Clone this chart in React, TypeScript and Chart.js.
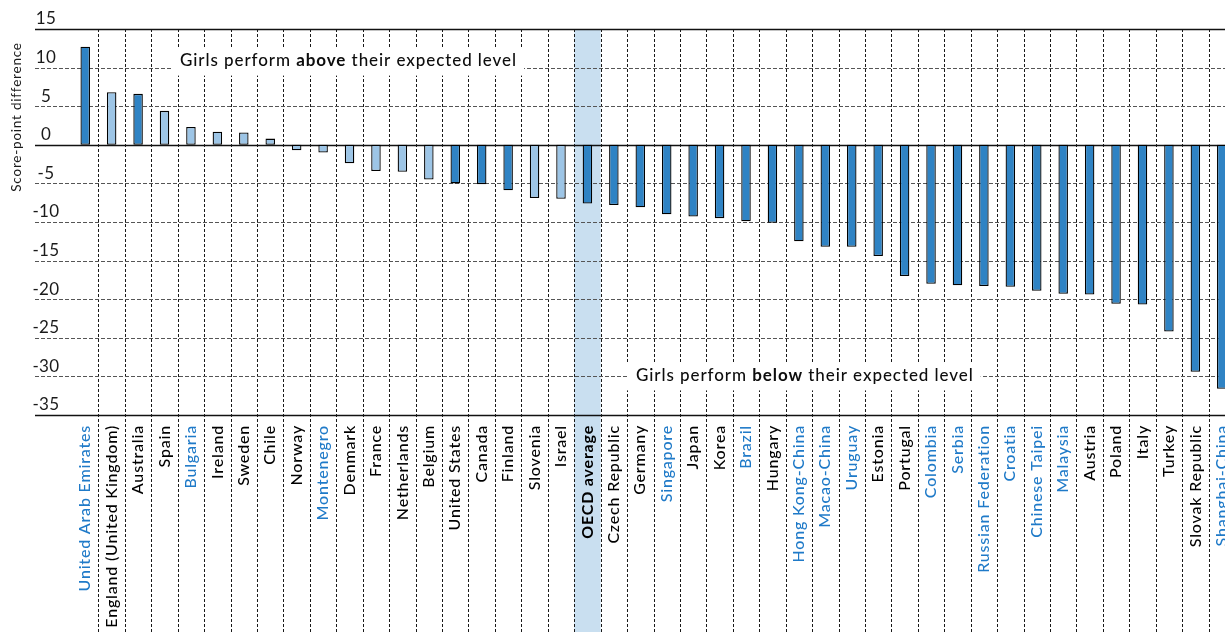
import React, { useEffect, useRef } from "react";
import { Chart, registerables } from "chart.js";

Chart.register(...registerables);

const countries = [
  "United Arab Emirates", "England (United Kingdom)", "Australia", "Spain", "Bulgaria",
  "Ireland", "Sweden", "Chile", "Norway", "Montenegro", "Denmark", "France", "Netherlands",
  "Belgium", "United States", "Canada", "Finland", "Slovenia", "Israel", "OECD average",
  "Czech Republic", "Germany", "Singapore", "Japan", "Korea", "Brazil", "Hungary",
  "Hong Kong-China", "Macao-China", "Uruguay", "Estonia", "Portugal", "Colombia", "Serbia",
  "Russian Federation", "Croatia", "Chinese Taipei", "Malaysia", "Austria", "Poland",
  "Italy", "Turkey", "Slovak Republic", "Shanghai-China",
];

const scoreDiff = [
  12.7, 6.8, 6.6, 4.4, 2.3,
  1.7, 1.6, 0.8, -0.7, -1.0, -2.4, -3.4, -3.5,
  -4.5, -5.0, -5.1, -5.9, -6.9, -7.0, -7.6,
  -7.8, -8.1, -9.0, -9.3, -9.5, -9.9, -10.1,
  -12.5, -13.2, -13.2, -14.4, -17.0, -18.0, -18.2,
  -18.3, -18.4, -18.9, -19.3, -19.4, -20.6,
  -20.7, -24.2, -29.4, -31.6,
];

// true = statistically significant (dark bar)
const significant = [
  true, false, true, false, false,
  false, false, false, false, false, false, false, false,
  false, true, true, true, false, false, true,
  true, true, true, true, true, true, true,
  true, true, true, true, true, true, true,
  true, true, true, true, true, true,
  true, true, true, true,
];

const partnerEconomies = [
  "United Arab Emirates", "Bulgaria", "Montenegro", "Singapore", "Brazil",
  "Hong Kong-China", "Macao-China", "Uruguay", "Colombia", "Serbia",
  "Russian Federation", "Croatia", "Chinese Taipei", "Malaysia", "Shanghai-China",
];

const averageLabel = "OECD average";
const yMin = -35;
const yMax = 15;
const yStep = 5;
const solidLines = [15, 0, -35];
const yTitle = "Score-point difference";
const noteAbove = ["Girls perform ", "above", " their expected level"];
const noteBelow = ["Girls perform ", "below", " their expected level"];

const DARK = "#2f83c4";
const LIGHT = "#9dc5e6";
const BAND = "#c9dff0";
const BLUE_TEXT = "#1f7ac8";
const FONT = "Lato, 'Open Sans', sans-serif";

const X_FONT_SIZE = 16;
const Y_FONT_SIZE = 17;
const NOTE_SIZE = 17;
const TITLE_SIZE = 13.5;

// letter spacing so that text spans the same length as in the original typeface
function fitSpacing(parts: string[], fonts: string[], target: number) {
  const c = document.createElement("canvas").getContext("2d") as any;
  let w = 0;
  let n = 0;
  parts.forEach((p, i) => {
    c.font = fonts[i];
    w += c.measureText(p).width;
    n += p.length;
  });
  return Math.max(0, (target - w) / n);
}

const xSpacing = fitSpacing(["England (United Kingdom)"], [`${X_FONT_SIZE}px ${FONT}`], 202);
const ySpacing = fitSpacing(["-35"], [`${Y_FONT_SIZE}px ${FONT}`], 27);
const noteFonts = [`500 ${NOTE_SIZE}px ${FONT}`, `bold ${NOTE_SIZE}px ${FONT}`, `500 ${NOTE_SIZE}px ${FONT}`];
const noteSpacing = fitSpacing(noteAbove, noteFonts, 337);
const titleSpacing = fitSpacing([yTitle], [`${TITLE_SIZE}px ${FONT}`], 149);

function drawNote(ctx: any, parts: string[], x: number, midY: number) {
  ctx.letterSpacing = `${noteSpacing}px`;
  let total = 0;
  const widths = parts.map((p, i) => {
    ctx.font = noteFonts[i];
    const w = ctx.measureText(p).width;
    total += w;
    return w;
  });
  ctx.fillStyle = "#ffffff";
  ctx.fillRect(x - 9, midY - 12, total + 16, 27);
  ctx.fillStyle = "#0d0d0d";
  ctx.textBaseline = "middle";
  ctx.textAlign = "left";
  let cx = x;
  parts.forEach((p, i) => {
    ctx.font = noteFonts[i];
    ctx.fillText(p, cx, midY);
    cx += widths[i];
  });
}

const backdropPlugin = {
  id: "backdrop",
  beforeDraw(chart: any) {
    const { ctx, chartArea, scales } = chart;
    const x = scales.x;
    const y = scales.y;
    const step = x.getPixelForValue(1) - x.getPixelForValue(0);
    ctx.save();
    ctx.fillStyle = "#ffffff";
    ctx.fillRect(0, 0, chart.width, chart.height);
    // highlighted average column
    const hi = countries.indexOf(averageLabel);
    const hx = x.getPixelForValue(hi);
    ctx.fillStyle = BAND;
    ctx.fillRect(hx - step / 2, chartArea.top, step, chart.height - chartArea.top);
    // vertical dashed separators
    ctx.lineWidth = 1;
    ctx.strokeStyle = "#1a1a1a";
    ctx.setLineDash([3, 2]);
    for (let i = 1; i <= countries.length; i++) {
      const bx = Math.round(x.getPixelForValue(i - 1) + step / 2) + 0.5;
      ctx.beginPath();
      ctx.moveTo(bx, chartArea.top);
      ctx.lineTo(bx, chart.height);
      ctx.stroke();
    }
    // horizontal grid lines
    const xStart = 35;
    for (let v = yMax; v >= yMin; v -= yStep) {
      const py = Math.round(y.getPixelForValue(v)) + 0.5;
      const solid = solidLines.includes(v);
      ctx.setLineDash(solid ? [] : [4, 2]);
      ctx.strokeStyle = solid ? "#111111" : "#555555";
      ctx.lineWidth = solid ? 1.3 : 1;
      ctx.beginPath();
      ctx.moveTo(xStart, py);
      ctx.lineTo(chart.width, py);
      ctx.stroke();
    }
    ctx.restore();
    // y tick labels are drawn next (z = 0)
    ctx.letterSpacing = `${ySpacing}px`;
  },
  afterDatasetsDraw(chart: any) {
    const { ctx, scales } = chart;
    const y = scales.y;
    ctx.save();
    drawNote(ctx, noteAbove, 180, y.getPixelForValue(10) - 7);
    drawNote(ctx, noteBelow, 636, y.getPixelForValue(-30) - 1);
    ctx.restore();
    // x tick labels are drawn after datasets (z = 1)
    ctx.letterSpacing = `${xSpacing}px`;
  },
  afterDraw(chart: any) {
    const { ctx } = chart;
    ctx.save();
    ctx.letterSpacing = `${titleSpacing}px`;
    ctx.translate(17, 117);
    ctx.rotate(-Math.PI / 2);
    ctx.font = `${TITLE_SIZE}px ${FONT}`;
    ctx.fillStyle = "#1a1a1a";
    ctx.textAlign = "center";
    ctx.textBaseline = "middle";
    ctx.fillText(yTitle, 0, 0);
    ctx.restore();
    ctx.letterSpacing = "0px";
  },
};

export default function App() {
  const canvasRef = useRef<HTMLCanvasElement | null>(null);

  useEffect(() => {
    if (!canvasRef.current) return;
    const chart = new Chart(canvasRef.current, {
      type: "bar",
      data: {
        labels: countries,
        datasets: [
          {
            data: scoreDiff,
            backgroundColor: significant.map((s) => (s ? DARK : LIGHT)),
            borderColor: "#000000",
            borderWidth: 1.3,
            borderSkipped: false,
            barPercentage: 0.36,
            categoryPercentage: 1,
          },
        ],
      },
      options: {
        animation: false,
        responsive: true,
        maintainAspectRatio: false,
        layout: { padding: { top: 29, right: 20, left: 0, bottom: 0 } },
        plugins: { legend: { display: false }, tooltip: { enabled: false }, title: { display: false } },
        scales: {
          x: {
            type: "category",
            offset: true,
            grid: { display: false, drawTicks: false },
            border: { display: false },
            afterFit: (s: any) => {
              s.height = 217;
            },
            ticks: {
              z: 1,
              autoSkip: false,
              minRotation: 90,
              maxRotation: 90,
              padding: 10,
              font: (c: any) => {
                const lbl = countries[c.index];
                return { family: FONT, size: X_FONT_SIZE, weight: lbl === averageLabel ? "bold" : "500" };
              },
              color: (c: any) => (partnerEconomies.includes(countries[c.index]) ? BLUE_TEXT : "#000000"),
            },
          },
          y: {
            min: yMin,
            max: yMax,
            grid: { display: false, drawTicks: false },
            border: { display: false },
            afterFit: (s: any) => {
              s.width = 72;
            },
            ticks: {
              stepSize: yStep,
              crossAlign: "center",
              padding: 13,
              labelOffset: -10,
              color: "#1a1a1a",
              font: { family: FONT, size: Y_FONT_SIZE },
            },
          },
        },
      },
      plugins: [backdropPlugin],
    });
    return () => chart.destroy();
  }, []);

  return (
    <div style={{ position: "fixed", left: 0, top: 0, width: 1225, height: 632, overflow: "hidden", background: "#fff" }}>
      <div style={{ position: "relative", width: 1255, height: 632 }}>
        <canvas ref={canvasRef} />
      </div>
    </div>
  );
}
